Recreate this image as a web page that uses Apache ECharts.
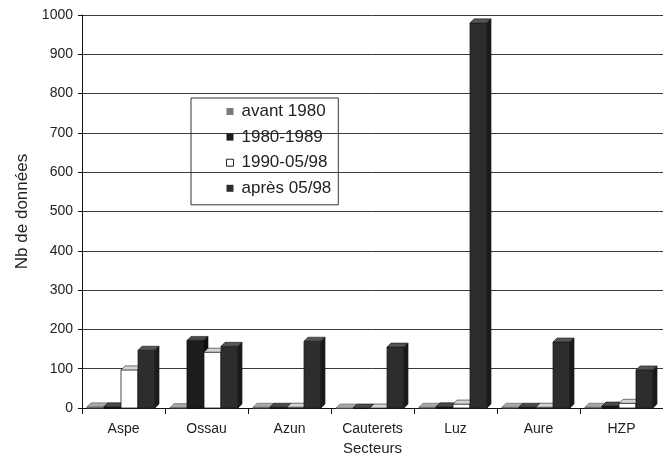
<!DOCTYPE html>
<html>
<head>
<meta charset="utf-8">
<script src="https://cdn.jsdelivr.net/npm/echarts@6/dist/echarts.min.js"></script>
<style>html,body{margin:0;padding:0;background:#fff}#c{width:663px;height:467px}</style>
</head>
<body>
<div id="c"></div>
<script>
var categories = ['Aspe', 'Ossau', 'Azun', 'Cauterets', 'Luz', 'Aure', 'HZP'];
var seriesNames = ['avant 1980', '1980-1989', '1990-05/98', 'après 05/98'];
var avant1980 = [3, 1, 2, 0, 2, 2, 2];
var p1980_1989 = [3, 172, 2, 0, 3, 2, 5];
var p1990_0598 = [97, 142, 2, 0, 10, 2, 12];
var apres0598 = [147, 157, 170, 155, 980, 168, 97];
var yTicks = [0, 100, 200, 300, 400, 500, 600, 700, 800, 900, 1000];

var values = [avant1980, p1980_1989, p1990_0598, apres0598];
var palette = [
  {front: '#7a7a7a', top: '#a8a8a8', side: '#555555', stroke: '#5a5a5a'},
  {front: '#1c1c1c', top: '#4a4a4a', side: '#0c0c0c', stroke: '#111111'},
  {front: '#ffffff', top: '#d4d4d4', side: '#a0a0a0', stroke: '#222222'},
  {front: '#2d2d2d', top: '#555555', side: '#1a1a1a', stroke: '#1a1a1a'}
];
var FONT = 'Liberation Sans, Arial, sans-serif';

function makeRender(idx) {
  var c = palette[idx];
  return function (params, api) {
    var cat = api.value(0), val = api.value(1);
    var base = api.coord([cat, 0]);
    var top = api.coord([cat, val]);
    var band = api.size([1, 0])[0];
    var bw = band * 0.205;
    var x0 = base[0] - band * 0.44 + idx * bw;
    var d = 4;
    var ty = top[1], by = base[1];
    return {
      type: 'group',
      children: [
        {type: 'rect', shape: {x: x0, y: ty, width: bw, height: Math.max(by - ty, 0)},
          style: {fill: c.front, stroke: c.stroke, lineWidth: 0.8}},
        {type: 'polygon', shape: {points: [[x0, ty], [x0 + d, ty - d], [x0 + bw + d, ty - d], [x0 + bw, ty]]},
          style: {fill: c.top, stroke: c.stroke, lineWidth: 0.6}},
        {type: 'polygon', shape: {points: [[x0 + bw, ty], [x0 + bw + d, ty - d], [x0 + bw + d, by - d], [x0 + bw, by]]},
          style: {fill: c.side, stroke: c.stroke, lineWidth: 0.6}}
      ]
    };
  };
}

var series = seriesNames.map(function (name, i) {
  return {
    name: name,
    type: 'custom',
    renderItem: makeRender(i),
    itemStyle: {color: palette[i].front, borderColor: '#222', borderWidth: i === 2 ? 1 : 0},
    encode: {x: 0, y: 1},
    data: values[i].map(function (v, k) { return [k, v]; })
  };
});

var chart = echarts.init(document.getElementById('c'), null, {renderer: 'canvas'});
chart.setOption({
  animation: false,
  backgroundColor: '#fff',
  textStyle: {fontFamily: FONT},
  grid: {left: 82, right: 0, top: 15, bottom: 59},
  legend: {
    orient: 'vertical',
    left: 191, top: 98,
    padding: [5, 7, 8, 35],
    borderColor: '#333', borderWidth: 1,
    itemWidth: 7, itemHeight: 7,
    itemGap: 8.6,
    icon: 'rect',
    textStyle: {fontSize: 17, color: '#222', fontFamily: FONT, lineHeight: 17, padding: [0, 0, 0, 3]},
    data: seriesNames.map(function (n, i) {
      return {name: n, itemStyle: {color: palette[i].front, borderColor: '#222', borderWidth: i === 2 ? 1 : 0}};
    })
  },
  xAxis: {
    type: 'category',
    data: categories,
    name: 'Secteurs',
    nameLocation: 'middle',
    nameGap: 28,
    nameTextStyle: {fontSize: 15, color: '#222', fontFamily: FONT},
    axisLine: {lineStyle: {color: '#111', width: 1}},
    axisTick: {show: true, length: 6, lineStyle: {color: '#111'}},
    axisLabel: {fontSize: 14, color: '#222', margin: 14, fontFamily: FONT, interval: 0},
    splitLine: {show: false}
  },
  yAxis: {
    type: 'value',
    min: yTicks[0], max: yTicks[yTicks.length - 1], interval: yTicks[1] - yTicks[0],
    name: 'Nb de données',
    nameLocation: 'middle',
    nameGap: 47,
    nameTextStyle: {fontSize: 17, color: '#222', fontFamily: FONT},
    axisLine: {show: true, lineStyle: {color: '#111', width: 1}},
    axisTick: {show: true, length: 4, lineStyle: {color: '#111'}},
    axisLabel: {fontSize: 14, color: '#222', margin: 9, fontFamily: FONT,
      formatter: function (v) { return String(v); }},
    splitLine: {show: true, lineStyle: {color: '#3a3a3a', width: 1}}
  },
  series: series
});
</script>
</body>
</html>
